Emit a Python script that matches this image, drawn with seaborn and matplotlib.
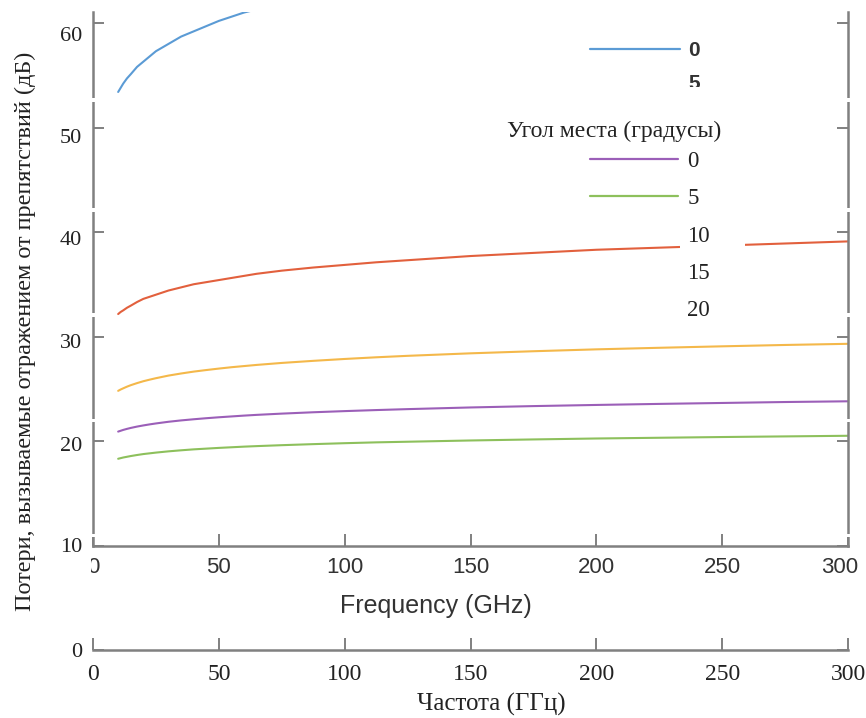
import matplotlib
matplotlib.use("Agg")
import matplotlib.pyplot as plt
import matplotlib.transforms as mtrans
import seaborn as sns
import pandas as pd
from matplotlib.lines import Line2D
from matplotlib.patches import Rectangle

# ---- data ----
freq = [10, 11, 12, 13.5, 15, 17.5, 20, 22.5, 25, 30, 35, 40, 45, 50, 55, 60, 65, 75,
        87.5, 100, 112.5, 125, 150, 175, 200, 225, 250, 275, 300]
freq_blue = [10, 11, 12, 13.5, 15, 17.5, 20, 22.5, 25, 30, 35, 40, 45, 50, 55, 60, 65, 75]
loss_blue = [53.4, 53.8, 54.2, 54.7, 55.1, 55.8, 56.3, 56.8, 57.3, 58.0, 58.7, 59.2,
             59.7, 60.2, 60.6, 61.0, 61.3, 61.9]
loss_red = [32.15, 32.35, 32.5, 32.75, 32.95, 33.3, 33.6, 33.8, 34.0, 34.4, 34.7, 35.0,
            35.2, 35.4, 35.6, 35.8, 36.0, 36.3, 36.6, 36.85, 37.1, 37.3, 37.7, 38.0,
            38.3, 38.5, 38.7, 38.9, 39.1]
loss_orange = [24.8, 24.93, 25.04, 25.2, 25.34, 25.54, 25.72, 25.87, 26.01, 26.26, 26.46,
               26.64, 26.79, 26.93, 27.06, 27.17, 27.28, 27.47, 27.67, 27.85, 28.01, 28.15,
               28.39, 28.59, 28.77, 28.92, 29.06, 29.19, 29.3]
loss_purple = [20.9, 20.98, 21.06, 21.16, 21.25, 21.38, 21.49, 21.59, 21.68, 21.84, 21.97,
               22.08, 22.18, 22.27, 22.35, 22.43, 22.5, 22.62, 22.75, 22.86, 22.96, 23.05,
               23.21, 23.34, 23.45, 23.55, 23.64, 23.73, 23.8]
loss_green = [18.3, 18.36, 18.42, 18.49, 18.56, 18.66, 18.75, 18.82, 18.89, 19.01, 19.11,
              19.2, 19.27, 19.34, 19.4, 19.46, 19.51, 19.6, 19.7, 19.79, 19.87, 19.93,
              20.05, 20.15, 20.24, 20.31, 20.38, 20.44, 20.5]

x_ticks = [0, 50, 100, 150, 200, 250, 300]
y_ticks = [0, 10, 20, 30, 40, 50, 60]
legend_labels = ["0", "5", "10", "15", "20"]
top_legend_labels = ["0", "5"]

series_names = ["blue", "red", "orange", "purple", "green"]
colors = {"blue": "#5b9bd5", "red": "#e2603d", "orange": "#f4b84a",
          "purple": "#9b5fb8", "green": "#8dc05c"}

rows = []
for f, v in zip(freq_blue, loss_blue):
    rows.append(("blue", f, v))
for name, vals in zip(series_names[1:], [loss_red, loss_orange, loss_purple, loss_green]):
    for f, v in zip(freq, vals):
        rows.append((name, f, v))
df = pd.DataFrame(rows, columns=["series", "freq", "loss"])

sns.set_theme(style="white")
plt.rcParams["font.family"] = ["Liberation Serif", "DejaVu Serif"]
sans = ["Liberation Sans", "DejaVu Sans"]

W, H = 866, 718
fig = plt.figure(figsize=(W / 100, H / 100), dpi=100)
x0, x1 = 93, 848
ybot, ytop = 650, 12
pxdb = (650 - 23) / 60.0
YMAX = (ybot - ytop) / pxdb
ax = fig.add_axes([x0 / W, (H - ybot) / H, (x1 - x0) / W, (ybot - ytop) / H])
ax.set_facecolor("white")

sns.lineplot(data=df, x="freq", y="loss", hue="series", palette=colors,
             legend=False, ax=ax, linewidth=1.5)
ax.set_xlim(0, 300)
ax.set_ylim(0, YMAX)

spc = "#808080"
for s in ["left", "right", "bottom"]:
    ax.spines[s].set_color(spc)
    ax.spines[s].set_linewidth(1.8)
ax.spines["top"].set_visible(False)
ax.spines["left"].set_bounds(10, YMAX)
ax.spines["right"].set_bounds(10, YMAX)

ax.set_yticks(y_ticks)
ax.set_yticklabels([str(v) for v in y_ticks])
ax.set_xticks(x_ticks)
ax.set_xticklabels([str(v) for v in x_ticks])
ax.tick_params(axis="y", direction="in", length=8, width=1.4, color=spc,
               left=True, right=True, labelsize=16, pad=8, labelcolor="#222")
ax.tick_params(axis="x", direction="in", length=9, width=1.4, color=spc,
               bottom=True, labelsize=17, pad=10, labelcolor="#222")
# the upper tick labels of the reference sit slightly below their ticks
for lab, dy in zip(ax.get_yticklabels(), [0, 0, -2, -3, -4, -6, -8]):
    lab.set_transform(lab.get_transform() + mtrans.ScaledTranslation(0, dy / 72, fig.dpi_scale_trans))
ax.set_xlabel("Частота (ГГц)", fontsize=18, color="#222", labelpad=6)
ax.xaxis.label.set_x((491 - x0) / (x1 - x0))
ax.set_ylabel("Потери, вызываемые отражением от препятствий (дБ)", fontsize=17.5,
              color="#222", labelpad=17)

# secondary (English) frequency axis at 10 dB
sec = ax.secondary_xaxis(10 / YMAX)
sec.set_xticks(x_ticks)
sec.set_xticklabels([str(v) for v in x_ticks])
sec.spines["bottom"].set_color(spc)
sec.spines["bottom"].set_linewidth(1.8)
sec.tick_params(axis="x", direction="in", length=9, width=1.4, color=spc,
                labelsize=16, labelcolor="#333", pad=8)
for lab in sec.get_xticklabels():
    lab.set_family(sans)
last = sec.get_xticklabels()[-1]
last.set_transform(last.get_transform() + mtrans.ScaledTranslation(-6 / 72, 0, fig.dpi_scale_trans))
sec.set_xlabel("Frequency (GHz)", fontsize=18, color="#333", family=sans, labelpad=12)
sec.xaxis.label.set_x((436 - x0) / (x1 - x0))

# top legend (blue)
h1 = [Line2D([], [], color=colors["blue"], lw=1.6), Line2D([], [], color="none")]
leg1 = ax.legend(h1, top_legend_labels, loc="upper left",
                 bbox_to_anchor=(590 / W, 1 - 41 / H), bbox_transform=fig.transFigure,
                 frameon=False, handlelength=4.3, handletextpad=0.4, labelspacing=0.69,
                 borderpad=0, borderaxespad=0,
                 prop={"family": sans, "weight": "bold", "size": 15})
for t in leg1.get_texts():
    t.set_color("#333")
ax.add_artist(leg1)

# main legend
h2 = [Line2D([], [], color=colors["purple"], lw=1.6),
      Line2D([], [], color=colors["green"], lw=1.6),
      Line2D([], [], color="none"), Line2D([], [], color="none"), Line2D([], [], color="none")]
leg2 = ax.legend(h2, legend_labels, loc="upper left",
                 bbox_to_anchor=(590 / W, 1 - 151 / H), bbox_transform=fig.transFigure,
                 frameon=False, handlelength=3.84, handletextpad=0.4, labelspacing=0.71,
                 borderpad=0, borderaxespad=0, prop={"size": 16.5})
for t in leg2.get_texts():
    t.set_color("#222")
fig.text(614 / W, 1 - 131 / H, "Угол места (градусы)", ha="center", va="center",
         fontsize=17, color="#222")

# white gap behind "10" label (masks the red line as in the reference)
ax.add_artist(Rectangle((680 / W, 1 - 257 / H), 65 / W, 22 / H, transform=fig.transFigure,
                        facecolor="white", edgecolor="none", zorder=4))
# clipping of the top "5" and of the first English tick label
fig.add_artist(Rectangle((672 / W, 1 - 100 / H), 40 / W, 13 / H, transform=fig.transFigure,
                         facecolor="white", edgecolor="none", zorder=10))
fig.add_artist(Rectangle((55 / W, 1 - 592 / H), 36 / W, 35 / H, transform=fig.transFigure,
                         facecolor="white", edgecolor="none", zorder=10))
# small white breaks in the vertical axis lines (scan seams in the reference)
for gy in [100, 210, 315, 420, 535]:
    for gx in [x0, x1]:
        fig.add_artist(Rectangle(((gx - 4) / W, 1 - (gy + 1.5) / H), 8 / W, 3 / H,
                                 transform=fig.transFigure, facecolor="white",
                                 edgecolor="none", zorder=10))

fig.savefig("out.png", dpi=100, facecolor="white")
